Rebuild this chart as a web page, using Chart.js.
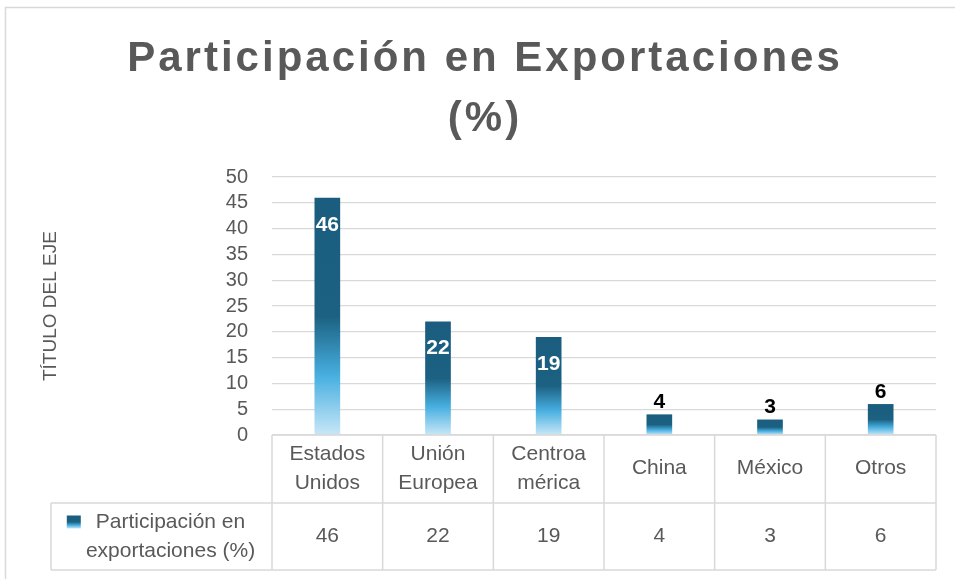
<!DOCTYPE html>
<html lang="es">
<head>
<meta charset="UTF-8">
<title>Participación en Exportaciones (%)</title>
<script src="https://cdn.jsdelivr.net/npm/chart.js"></script>
<style>
  html, body { margin: 0; padding: 0; background: #ffffff; }
  canvas { display: block; }
</style>
</head>
<body>
<canvas id="chart" width="955" height="579"></canvas>
<script>
// data
const categories = [["Estados", "Unidos"], ["Unión", "Europea"], ["Centroa", "mérica"], ["China"], ["México"], ["Otros"]];
const shares = [46, 22, 19, 4, 3, 6];
const seriesName = ["Participación en", "exportaciones (%)"];
const titleLines = ["Participación en Exportaciones", "(%)"];
const yAxisTitle = "TÍTULO DEL EJE";
const yMax = 50;
const yStep = 5;

const textGrey = '#595959';
const lineGrey = '#d9d9d9';
const family = "'Liberation Sans', Arial, sans-serif";
const dataRowHeight = 67;
const legendCellLeft = 51;

function barGradient(ctx, top, bottom) {
    const g = ctx.createLinearGradient(0, top, 0, bottom);
    g.addColorStop(0, '#1a5d7e');
    g.addColorStop(0.5, '#1c6182');
    g.addColorStop(0.75, '#47afe0');
    g.addColorStop(1, '#c8e7f7');
    return g;
}

// light frame round the chart, runs off the right and bottom edges
const frame = {
    id: 'frame',
    beforeDraw(chart) {
        const ctx = chart.ctx;
        ctx.save();
        ctx.strokeStyle = lineGrey;
        ctx.lineWidth = 1.5;
        ctx.strokeRect(5.5, 7.5, chart.width + 20, chart.height + 20);
        ctx.restore();
        // wider letter spacing on the title, like the original
        const block = chart.titleBlock;
        if (block && !block._spaced) {
            const orig = block.draw;
            block.draw = function () {
                chart.ctx.save();
                chart.ctx.letterSpacing = '3px';
                orig.apply(this, arguments);
                chart.ctx.restore();
            };
            block._spaced = true;
        }
    }
};

// value labels on the bars
const barLabels = {
    id: 'barLabels',
    afterDatasetsDraw(chart) {
        const ctx = chart.ctx;
        ctx.save();
        ctx.font = 'bold 21px ' + family;
        ctx.textAlign = 'center';
        ctx.textBaseline = 'middle';
        chart.getDatasetMeta(0).data.forEach((bar, i) => {
            const inside = shares[i] >= 10;
            ctx.fillStyle = inside ? '#ffffff' : '#000000';
            ctx.fillText(String(shares[i]), bar.x, inside ? bar.y + 27 : bar.y - 12);
        });
        ctx.restore();
    }
};

// data table under the axis
const dataTable = {
    id: 'dataTable',
    afterDraw(chart) {
        const ctx = chart.ctx;
        const x = chart.scales.x;
        const top = chart.chartArea.bottom;
        const mid = x.bottom;
        const bot = mid + dataRowHeight;
        const half = (x.getPixelForValue(1) - x.getPixelForValue(0)) / 2;
        ctx.save();
        ctx.strokeStyle = lineGrey;
        ctx.lineWidth = 1.5;
        ctx.beginPath();
        ctx.moveTo(x.left, top); ctx.lineTo(x.right, top);
        ctx.moveTo(legendCellLeft, mid); ctx.lineTo(x.right, mid);
        ctx.moveTo(legendCellLeft, bot); ctx.lineTo(x.right, bot);
        ctx.moveTo(legendCellLeft, mid); ctx.lineTo(legendCellLeft, bot);
        for (let i = 0; i < categories.length; i++) {
            const left = x.getPixelForValue(i) - half;
            ctx.moveTo(left, top); ctx.lineTo(left, bot);
        }
        ctx.moveTo(x.right, top); ctx.lineTo(x.right, bot);
        ctx.stroke();

        ctx.font = '21px ' + family;
        ctx.fillStyle = textGrey;
        ctx.textAlign = 'center';
        ctx.textBaseline = 'middle';
        const rowMid = mid + dataRowHeight / 2;
        shares.forEach((v, i) => ctx.fillText(String(v), x.getPixelForValue(i), rowMid));

        // legend cell
        const cx = (legendCellLeft + x.left) / 2 + 9;
        const y1 = rowMid - 14.5, y2 = rowMid + 14.5;
        ctx.fillText(seriesName[0], cx, y1);
        ctx.fillText(seriesName[1], cx, y2);
        const w1 = ctx.measureText(seriesName[0]).width;
        const sx = cx - w1 / 2 - 15 - 14;
        ctx.fillStyle = barGradient(ctx, y1 - 6.5, y1 + 6.5);
        ctx.fillRect(sx, y1 - 6.5, 14, 13);
        ctx.restore();
    }
};

new Chart(document.getElementById('chart'), {
    type: 'bar',
    data: {
        labels: categories,
        datasets: [{
            label: seriesName.join(' '),
            data: shares,
            categoryPercentage: 1,
            barPercentage: 0.232,
            backgroundColor: (c) => {
                const chart = c.chart;
                if (c.type !== 'data' || !chart.chartArea) return '#1a5d7e';
                const y = chart.scales.y;
                return barGradient(chart.ctx, y.getPixelForValue(c.raw), y.getPixelForValue(0));
            }
        }]
    },
    options: {
        responsive: false,
        animation: false,
        events: [],
        layout: { padding: { top: 0, left: 34, right: 19, bottom: dataRowHeight + 9 } },
        plugins: {
            legend: { display: false },
            tooltip: { enabled: false },
            title: {
                display: true,
                text: titleLines,
                color: textGrey,
                font: { family: family, size: 42, weight: 'bold', lineHeight: 1.43 },
                padding: { top: 29, bottom: 28 }
            }
        },
        scales: {
            x: {
                grid: { display: false },
                border: { display: false },
                ticks: {
                    color: textGrey,
                    font: { family: family, size: 21, lineHeight: 1.4 },
                    padding: 11,
                    crossAlign: 'center',
                    maxRotation: 0,
                    autoSkip: false
                },
                afterFit: (s) => { s.height = 68; }
            },
            y: {
                min: 0,
                max: yMax,
                grid: { color: lineGrey, lineWidth: 1.3, drawTicks: false },
                border: { display: false },
                ticks: {
                    stepSize: yStep,
                    autoSkip: false,
                    color: textGrey,
                    font: { family: family, size: 20 },
                    padding: 24
                },
                title: {
                    display: true,
                    text: yAxisTitle,
                    color: textGrey,
                    font: { family: family, size: 19 },
                    padding: { top: 5, bottom: 0 }
                },
                afterFit: (s) => { s.width = 238; }
            }
        }
    },
    plugins: [frame, barLabels, dataTable]
});
</script>
</body>
</html>
